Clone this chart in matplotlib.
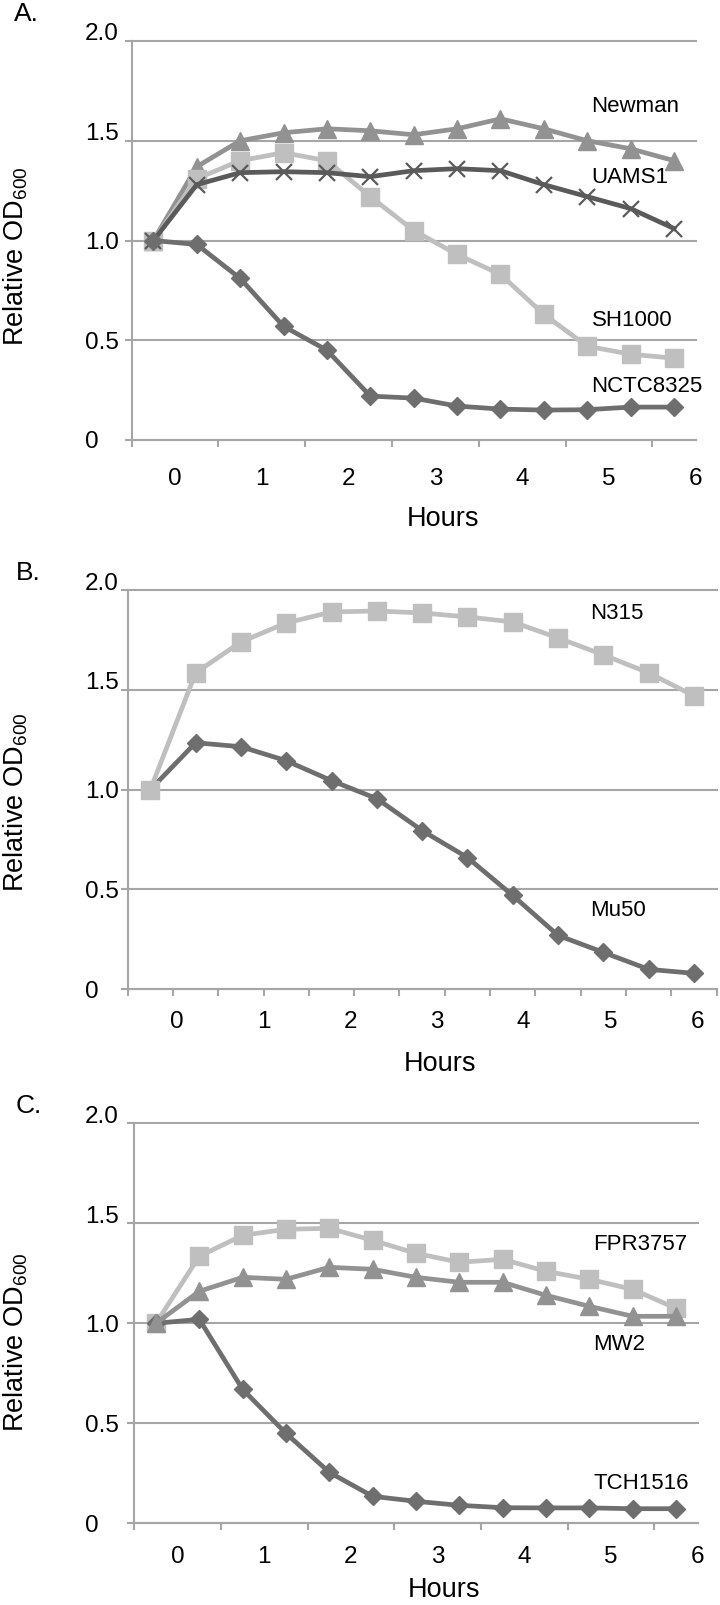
import numpy as np
import matplotlib
matplotlib.use("Agg")
import matplotlib.pyplot as plt
from matplotlib.transforms import ScaledTranslation

plt.rcParams['font.family'] = ['Liberation Sans', 'DejaVu Sans']
plt.rcParams['mathtext.default'] = 'regular'

# ---------------- data ----------------
hour_labels = ["0", "1", "2", "3", "4", "5", "6"]
y_ticks = [0, 0.5, 1.0, 1.5, 2.0]
y_tick_labels = ["0", "0.5", "1.0", "1.5", "2.0"]

# Panel A
newman   = [1.00, 1.37, 1.50, 1.54, 1.56, 1.55, 1.53, 1.56, 1.61, 1.56, 1.50, 1.46, 1.40]
uams1    = [1.00, 1.28, 1.34, 1.345, 1.34, 1.32, 1.35, 1.36, 1.35, 1.28, 1.22, 1.16, 1.06]
sh1000   = [1.00, 1.31, 1.40, 1.44, 1.40, 1.22, 1.05, 0.93, 0.83, 0.63, 0.47, 0.43, 0.41]
nctc8325 = [1.00, 0.98, 0.81, 0.57, 0.45, 0.22, 0.21, 0.17, 0.155, 0.15, 0.152, 0.165, 0.165]

# Panel B
n315 = [1.00, 1.585, 1.74, 1.835, 1.89, 1.895, 1.885, 1.865, 1.84, 1.76, 1.675, 1.585, 1.47]
mu50 = [1.00, 1.235, 1.215, 1.145, 1.045, 0.955, 0.795, 0.66, 0.47, 0.27, 0.185, 0.10, 0.08]

# Panel C
fpr3757 = [1.00, 1.335, 1.44, 1.47, 1.475, 1.415, 1.35, 1.305, 1.32, 1.26, 1.22, 1.17, 1.075]
mw2     = [1.00, 1.16, 1.23, 1.22, 1.28, 1.27, 1.23, 1.205, 1.205, 1.14, 1.085, 1.035, 1.035]
tch1516 = [1.00, 1.02, 0.67, 0.45, 0.255, 0.135, 0.11, 0.09, 0.078, 0.077, 0.077, 0.073, 0.073]

# ---------------- style ----------------
LIGHT = '#bfbfbf'
MED = '#929292'
DARK = '#6e6e6e'
DARKER = '#5a5a5a'
GRID = '#a6a6a6'

W, H = 720, 1605
DPI = 100
fig = plt.figure(figsize=(W / DPI, H / DPI), dpi=DPI)

def px_axes(left, right, top, bottom):
    return fig.add_axes([left / W, 1 - bottom / H, (right - left) / W, (bottom - top) / H])

styles = {
    'sq':  dict(color=LIGHT, marker='s', ms=12.5, mec=LIGHT, mfc=LIGHT, lw=3.4),
    'tri': dict(color=MED, marker='^', ms=13, mec=MED, mfc=MED, lw=3.4),
    'x':   dict(color=DARKER, marker='x', ms=12, mec=DARKER, mew=1.6, lw=3.4),
    'dia': dict(color=DARK, marker='D', ms=9, mec=DARK, mfc=DARK, lw=3.4),
}

def setup(ax, axis_left_px, label_pos, xlabel_pad_px):
    n = 13
    ax.set_xlim(-0.5, n - 0.5)
    ax.set_ylim(0, 2.0)
    for s in ['top', 'right']:
        ax.spines[s].set_visible(False)
    for s in ['left', 'bottom']:
        ax.spines[s].set_color(GRID)
        ax.spines[s].set_linewidth(1.5)
    ax.set_yticks(y_ticks)
    ax.set_yticklabels(y_tick_labels)
    ax.yaxis.grid(True, color=GRID, lw=1.5)
    for gl in ax.get_ygridlines():
        gl.set_clip_on(False)
    ax.set_axisbelow(True)
    ticklen_px = 7
    pad_pt = (axis_left_px - ticklen_px - 85) * 72 / DPI
    ax.tick_params(axis='y', length=ticklen_px * 0.72, width=1.5, color=GRID,
                   labelsize=17.5, pad=pad_pt)
    for lab in ax.get_yticklabels():
        lab.set_horizontalalignment('left')
    for lab, v in zip(ax.get_yticklabels(), y_ticks):
        if v >= 1.5:
            lab.set_transform(lab.get_transform() +
                              ScaledTranslation(0, 9 / DPI, fig.dpi_scale_trans))
    # x: minor ticks at category boundaries, labels at given positions
    ax.set_xticks(np.arange(-0.5, n, 1.0), minor=True)
    ax.set_xticks(label_pos)
    ax.set_xticklabels(hour_labels)
    ax.tick_params(axis='x', which='minor', length=5, width=1.5, color=GRID)
    ax.tick_params(axis='x', which='major', length=0, labelsize=17.5,
                   pad=xlabel_pad_px * 0.72)

def plot_series(ax, values, key, z):
    x = np.arange(len(values))
    ax.plot(x, values, zorder=z, clip_on=False, **styles[key])

# ---------------- Panel A ----------------
axA = px_axes(131.7, 695.7, 41, 440)
setupA_pos = [0.5 + 2 * k for k in range(7)]
setup(axA, 131.7, setupA_pos, 28)
plot_series(axA, newman, 'tri', 3)
plot_series(axA, sh1000, 'sq', 4)
plot_series(axA, uams1, 'x', 5)
plot_series(axA, nctc8325, 'dia', 6)
lab_fs = 16
axA.text(10.1, 1.67, "Newman", fontsize=lab_fs, va='center', ha='left')
axA.text(10.1, 1.315, "UAMS1", fontsize=lab_fs, va='center', ha='left')
axA.text(10.1, 0.598, "SH1000", fontsize=lab_fs, va='center', ha='left')
axA.text(10.1, 0.27, "NCTC8325", fontsize=lab_fs, va='center', ha='left')

# ---------------- Panel B ----------------
axB = px_axes(127.7, 716.6, 590, 989.3)
setupB_pos = [0.59 + 1.913 * k for k in range(7)]
setup(axB, 127.7, setupB_pos, 22)
plot_series(axB, mu50, 'dia', 3)
plot_series(axB, n315, 'sq', 4)
axB.text(9.7, 1.88, "N315", fontsize=lab_fs, va='center', ha='left')
axB.text(9.7, 0.395, "Mu50", fontsize=lab_fs, va='center', ha='left')

# ---------------- Panel C ----------------
axC = px_axes(134.3, 697.6, 1123.3, 1523.3)
setup(axC, 134.3, setupA_pos, 23)
plot_series(axC, fpr3757, 'sq', 3)
plot_series(axC, tch1516, 'dia', 4)
plot_series(axC, mw2, 'tri', 5)
axC.text(10.1, 1.396, "FPR3757", fontsize=lab_fs, va='center', ha='left')
axC.text(10.1, 0.892, "MW2", fontsize=lab_fs, va='center', ha='left')
axC.text(10.1, 0.201, "TCH1516", fontsize=lab_fs, va='center', ha='left')

# ---------------- figure texts ----------------
def ftext(xpx, ypx, s, **kw):
    fig.text(xpx / W, 1 - ypx / H, s, **kw)

ftext(14, 20.7, "A.", fontsize=19, ha='left', va='baseline')
ftext(16, 580.5, "B.", fontsize=19, ha='left', va='baseline')
ftext(16, 1113, "C.", fontsize=19, ha='left', va='baseline')

for xc, yb in [(443, 526), (440, 1071), (444, 1597)]:
    ftext(xc, yb, "Hours", fontsize=19.5, ha='center', va='baseline')

for yc in [256, 802, 1342]:
    ftext(23.5, yc, "Relative OD$_{600}$", fontsize=19.5, rotation=90,
          rotation_mode='anchor', ha='center', va='baseline')

fig.savefig("out.png", dpi=DPI)
